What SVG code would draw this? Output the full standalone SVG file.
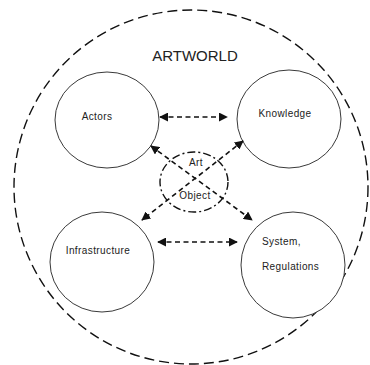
<svg xmlns="http://www.w3.org/2000/svg" width="370" height="365" viewBox="0 0 370 365">
  <style>
    .node { fill: #ffffff; stroke: #3a3a3a; stroke-width: 1; }
    .label { font-family: "Liberation Sans", Arial, sans-serif; font-size: 10px; fill: #222; letter-spacing: 0.4px; }
    .link { stroke: #111; stroke-width: 1.6; stroke-dasharray: 5 3.5; fill: none; }
  </style>
  <defs>
    <marker id="arrow" viewBox="0 0 10 10" refX="9" refY="5" markerWidth="9" markerHeight="9" markerUnits="userSpaceOnUse" orient="auto-start-reverse">
      <path d="M0,0 L10,5 L0,10 Z" fill="#111"/>
    </marker>
  </defs>

  <rect width="370" height="365" fill="#ffffff"/>

  <!-- outer boundary: the artworld -->
  <g id="artworld">
    <circle cx="191" cy="187" r="177" fill="none" stroke="#111" stroke-width="1.4" stroke-dasharray="10 5"/>
    <text x="195" y="61" text-anchor="middle" font-family="Liberation Sans, Arial, sans-serif" font-size="15" fill="#222">ARTWORLD</text>
  </g>

  <g id="actors">
    <ellipse class="node" cx="107" cy="120" rx="52" ry="48"/>
    <text class="label" x="97" y="120" text-anchor="middle">Actors</text>
  </g>

  <g id="knowledge">
    <ellipse class="node" cx="289" cy="119" rx="52" ry="49"/>
    <text class="label" x="285" y="117" text-anchor="middle">Knowledge</text>
  </g>

  <g id="infrastructure">
    <ellipse class="node" cx="102" cy="262" rx="52" ry="50"/>
    <text class="label" x="98" y="254" text-anchor="middle">Infrastructure</text>
  </g>

  <g id="system">
    <ellipse class="node" cx="293" cy="265" rx="52" ry="53"/>
    <text class="label" x="262" y="245">System,</text>
    <text class="label" x="262" y="270">Regulations</text>
  </g>

  <g id="art-object">
    <ellipse cx="194" cy="182" rx="34" ry="30" fill="none" stroke="#111" stroke-width="1.4" stroke-dasharray="8 3 2 3"/>
    <text class="label" x="196" y="166" text-anchor="middle">Art</text>
    <text class="label" x="195" y="199" text-anchor="middle">Object</text>
  </g>

  <g id="connectors">
    <line class="link" x1="160" y1="117" x2="227" y2="117" marker-start="url(#arrow)" marker-end="url(#arrow)"/>
    <line class="link" x1="158" y1="242" x2="237" y2="242" marker-start="url(#arrow)" marker-end="url(#arrow)"/>
    <line class="link" x1="151" y1="146" x2="252" y2="220" marker-start="url(#arrow)" marker-end="url(#arrow)"/>
    <line class="link" x1="243" y1="141" x2="142" y2="220" marker-start="url(#arrow)" marker-end="url(#arrow)"/>
  </g>
</svg>
